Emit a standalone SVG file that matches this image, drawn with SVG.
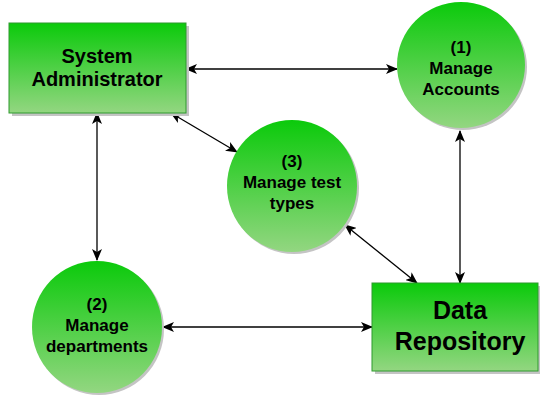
<svg xmlns="http://www.w3.org/2000/svg" width="540" height="397" viewBox="0 0 540 397">
<defs>
<linearGradient id="g" x1="0" y1="0" x2="0" y2="1">
<stop offset="0" stop-color="#0bca0b"/>
<stop offset="1" stop-color="#93d681"/>
</linearGradient>
<marker id="ah" viewBox="0 0 12 10" refX="11" refY="5" markerWidth="12" markerHeight="10" markerUnits="userSpaceOnUse" orient="auto-start-reverse">
<path d="M0,0 L12,5 L0,10 L3,5 Z" fill="#000"/>
</marker>
</defs>
<style>
.shadow{fill:#c4c4c4}
.box{fill:url(#g);stroke:#2f9a2f;stroke-width:1}
.circ{fill:url(#g)}
.t{font-family:"Liberation Sans",Arial,sans-serif;font-weight:bold;fill:#000;text-anchor:middle}
.s{font-size:17px}
.c{stroke:#000;stroke-width:1.3;fill:none;marker-start:url(#ah);marker-end:url(#ah)}
</style>
<g id="connectors">
<line class="c" x1="186" y1="69" x2="397" y2="69"/>
<line class="c" x1="97" y1="113" x2="97" y2="260"/>
<line class="c" x1="171" y1="113" x2="237" y2="152"/>
<line class="c" x1="345" y1="225" x2="417" y2="283"/>
<line class="c" x1="460" y1="131" x2="460" y2="283"/>
<line class="c" x1="163" y1="327" x2="372" y2="327"/>
</g>
<g id="sysadmin">
<rect class="shadow" x="12" y="26" width="177" height="90"/>
<rect class="box" x="9" y="23" width="177" height="90"/>
<text class="t" x="97" y="63" font-size="20">System</text>
<text class="t" x="97" y="86" font-size="20">Administrator</text>
</g>
<g id="accounts">
<ellipse class="shadow" cx="463" cy="67" rx="64" ry="63"/>
<ellipse class="circ" cx="461" cy="65" rx="64" ry="63"/>
<text class="t s" x="461" y="53">(1)</text>
<text class="t s" x="461" y="74">Manage</text>
<text class="t s" x="461" y="95">Accounts</text>
</g>
<g id="testtypes">
<ellipse class="shadow" cx="294" cy="188" rx="65" ry="66"/>
<ellipse class="circ" cx="292" cy="186" rx="65" ry="66"/>
<text class="t s" x="292" y="167">(3)</text>
<text class="t s" x="292" y="188">Manage test</text>
<text class="t s" x="292" y="209">types</text>
</g>
<g id="departments">
<ellipse class="shadow" cx="99" cy="329" rx="65" ry="66"/>
<ellipse class="circ" cx="97" cy="327" rx="65" ry="66"/>
<text class="t s" x="97" y="310">(2)</text>
<text class="t s" x="97" y="331">Manage</text>
<text class="t s" x="97" y="352">departments</text>
</g>
<g id="repository">
<rect class="shadow" x="375" y="286" width="166" height="88"/>
<rect class="box" x="372" y="283" width="166" height="88"/>
<text class="t" x="460" y="319" font-size="25">Data</text>
<text class="t" x="460" y="350" font-size="25">Repository</text>
</g>
</svg>
